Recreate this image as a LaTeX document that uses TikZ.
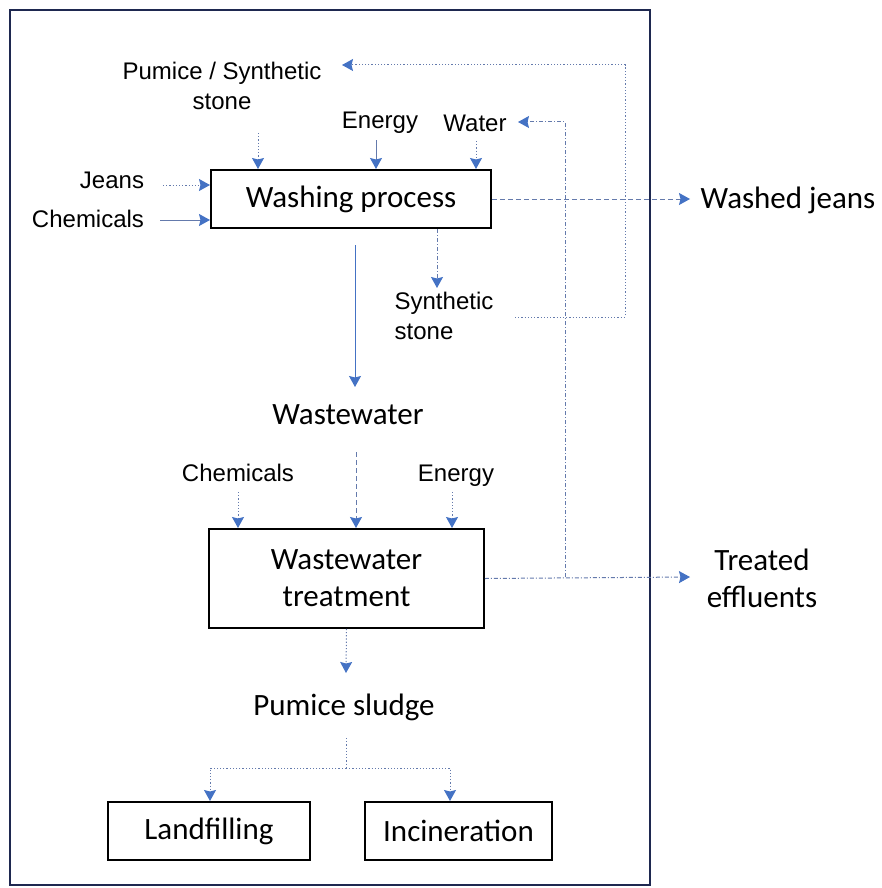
\documentclass[tikz,border=0pt]{standalone}
\usepackage{fontspec}
\setmainfont{Carlito}
\newfontfamily\arialf{Liberation Sans}
\usetikzlibrary{arrows.meta,calc}
\definecolor{navy}{RGB}{30,40,80}
\definecolor{lblue}{RGB}{68,114,196}
\definecolor{gline}{RGB}{100,122,172}
\tikzset{
  procbox/.style={draw=black,line width=1.6pt,inner sep=0pt,align=center,font=\fontsize{31}{37}\selectfont},
  bigtxt/.style={inner sep=1pt,align=center,font=\fontsize{31}{37}\selectfont},
  smalltxt/.style={inner sep=1pt,align=center,font=\arialf\fontsize{24}{30}\selectfont},
  flow/.style={draw=gline,line width=1pt,-{Stealth[length=11pt,width=12pt,inset=1.5pt,color=lblue,fill=lblue]}},
  dotl/.style={dash pattern=on 1.2pt off 2pt},
  dashl/.style={dash pattern=on 5pt off 3pt},
  dashdotl/.style={dash pattern=on 4pt off 2pt on 1pt off 2pt},
}
\begin{document}
\begin{tikzpicture}[x=1pt,y=-1pt]
\useasboundingbox (0,0) rectangle (882,888);
% outer frame
\draw[navy,line width=2pt] (10,10) rectangle (650,885);

% boxes
\node[procbox,minimum width=280pt,minimum height=58pt] (wash) at (351,199) {Washing process};
\node[procbox,minimum width=275pt,minimum height=99pt] (treat) at (346.5,578.5) {Wastewater\\treatment};
\node[procbox,minimum width=202pt,minimum height=58pt] (land) at (209,831) {Landfilling};
\node[procbox,minimum width=187pt,minimum height=58pt] (inc) at (458.5,831) {Incineration};

% labels
\node[smalltxt] (pum) at (222,86) {Pumice / Synthetic\\stone};
\node[smalltxt] (en1) at (380,123) {Energy};
\node[smalltxt] (wat) at (475,123) {Water};
\node[smalltxt] (jeans) at (112,180) {Jeans};
\node[smalltxt] (chem1) at (88,219) {Chemicals};
\node[smalltxt,align=left] (syn) at (444,316) {Synthetic\\stone};
\node[smalltxt] (chem2) at (238,473) {Chemicals};
\node[smalltxt] (en2) at (456,476) {Energy};
\node[bigtxt] (wj) at (788,200) {Washed jeans};
\node[bigtxt] (ww) at (348,415) {Wastewater};
\node[bigtxt] (te) at (762,578) {Treated\\effluents};
\node[bigtxt] (ps) at (344,707) {Pumice sludge};

% inputs to washing
\draw[flow,dotl] (258,133) -- (258,169);
\draw[flow] (376,140) -- (376,169);
\draw[flow,dotl] (476,141) -- (476,169);
\draw[flow,dotl] (163,185) -- (210,185);
\draw[flow] (160,220) -- (210,220);

% outputs of washing
\draw[flow,dashl] (wash.east) -- (690,199);
\draw[flow,dashdotl] (437,229) -- (437,288);
\draw[flow,draw=lblue] (355,245) -- (355,387);

% recycling loops
\coordinate (synout) at (515,317);
\draw[flow,dotl] (synout) -- (625,317) -- (625,65) -- (342,65);
\coordinate (split) at (565,577);
\draw[flow,dashdotl] (split) -- (565,122) -- (518,122);

% inputs to treatment
\draw[flow,dashl] (356,452) -- (356,528);
\draw[flow,dotl] (238,492) -- (238,528);
\draw[flow,dotl] (452,492) -- (452,528);

% outputs of treatment
\draw[flow,dashdotl] (treat.east) -- (690,577);
\draw[flow,dotl] (treat.south) -- (346,673);

% sludge split
\coordinate (br) at (346,768);
\draw[gline,line width=1pt,dotl] (346,738) -- (br);
\draw[flow,dotl] (br) -| (210,801);
\draw[flow,dotl] (br) -| (450,801);
\end{tikzpicture}
\end{document}
